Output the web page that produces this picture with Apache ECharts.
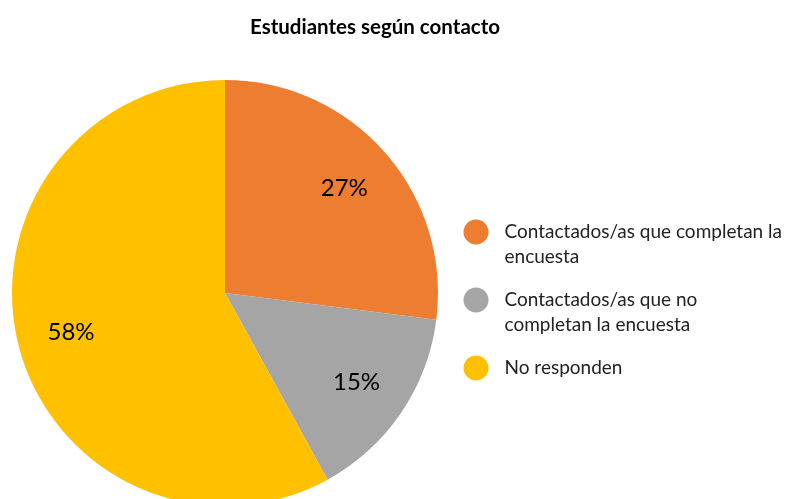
<!DOCTYPE html>
<html>
<head>
<meta charset="utf-8">
<script src="https://cdn.jsdelivr.net/npm/echarts@6/dist/echarts.min.js"></script>
<style>
  html, body { margin: 0; padding: 0; background: #fff; }
  #main { width: 790px; height: 499px; }
</style>
</head>
<body>
<div id="main"></div>
<script>
// datos del gráfico
var categories = ['Contactados/as que completan la encuesta', 'Contactados/as que no completan la encuesta', 'No responden'];
var legendText = [' \nContactados/as que completan la\nencuesta', ' \nContactados/as que no\ncompletan la encuesta', 'No responden'];
var values = [27, 15, 58];
var colors = ['#ED7D31', '#A5A5A5', '#FFC000'];

var chart = echarts.init(document.getElementById('main'));

var pieData = categories.map(function (name, i) {
    return { name: name, value: values[i], itemStyle: { color: colors[i] } };
});
var labelData = categories.map(function (name, i) {
    return { name: name, value: values[i] };
});

// una leyenda por elemento, para alinear el icono con la primera línea
var legendTops = [194.5, 262.5, 355.5];
var legends = categories.map(function (name, i) {
    return {
        data: [name],
        orient: 'vertical',
        left: 463.5,
        top: legendTops[i],
        padding: 0,
        icon: 'circle',
        itemWidth: 25,
        itemHeight: 25,
        selectedMode: false,
        formatter: function () { return legendText[i]; },
        textStyle: {
            fontFamily: 'Lato',
            fontSize: 19,
            color: '#222',
            lineHeight: 25,
            padding: [0, 0, 0, 11]
        }
    };
});

var option = {
    animation: false,
    title: {
        text: 'Estudiantes según contacto',
        left: 250,
        top: 17,
        padding: 0,
        textStyle: { fontFamily: 'Lato', fontWeight: 'bold', fontSize: 20.5, color: '#000' }
    },
    legend: legends,
    series: [
        {
            type: 'pie',
            center: [225, 293],
            radius: [0, 213],
            startAngle: 90,
            clockwise: true,
            silent: true,
            label: { show: false },
            labelLine: { show: false },
            itemStyle: { borderWidth: 0 },
            data: pieData
        },
        {
            // serie auxiliar solo para las etiquetas
            type: 'pie',
            center: [225, 293],
            radius: [99, 213],
            startAngle: 90,
            clockwise: true,
            silent: true,
            itemStyle: { color: 'rgba(0,0,0,0)', borderWidth: 0 },
            label: {
                show: true,
                position: 'inside',
                formatter: '{c}%',
                fontFamily: 'Lato',
                fontSize: 24,
                color: '#000'
            },
            labelLine: { show: false },
            data: labelData
        }
    ]
};
chart.setOption(option);
</script>
</body>
</html>
